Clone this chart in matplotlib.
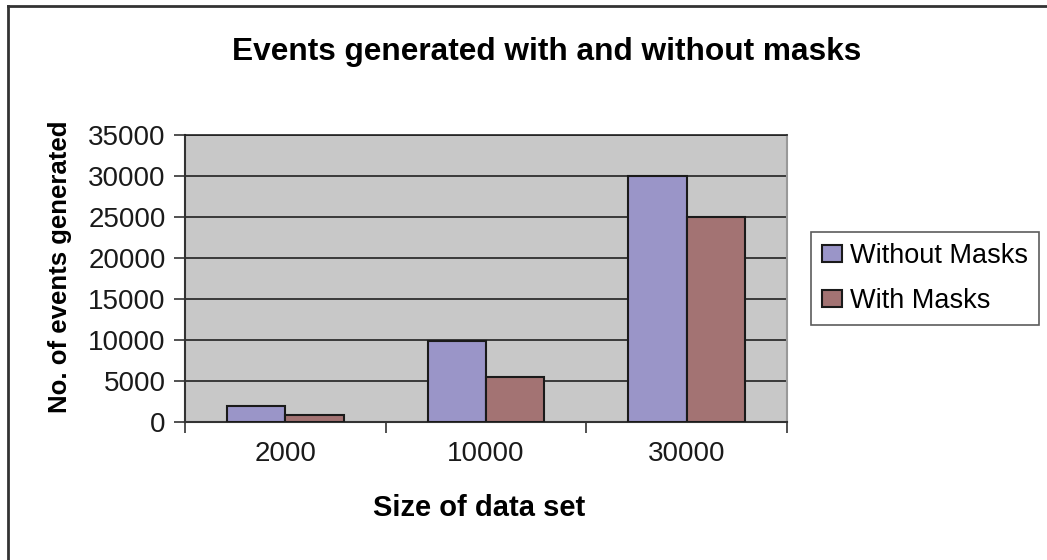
import numpy as np
import matplotlib.pyplot as plt
from matplotlib.lines import Line2D

plt.rcParams['font.family'] = ['Liberation Sans', 'DejaVu Sans']

# data
sizes = ['2000', '10000', '30000']
without_masks = [1900, 9900, 30000]
with_masks = [800, 5500, 25000]
series_names = ['Without Masks', 'With Masks']
y_ticks = [0, 5000, 10000, 15000, 20000, 25000, 30000, 35000]

fig = plt.figure(figsize=(10.47, 5.6), dpi=100)
ax = fig.add_axes([185 / 1047, 1 - 422 / 560, (787 - 185) / 1047, (422 - 135) / 560])
ax.set_facecolor('#c8c8c8')

x = np.arange(len(sizes))
w = 0.29
ax.bar(x - w / 2, without_masks, w, color='#9a95c8', edgecolor='#1a1a1a', linewidth=1.5,
       label=series_names[0], zorder=3)
ax.bar(x + w / 2, with_masks, w, color='#a37373', edgecolor='#1a1a1a', linewidth=1.5,
       label=series_names[1], zorder=3)

ax.set_xlim(-0.5, len(sizes) - 0.5)
ax.set_ylim(0, 35000)
ax.set_yticks(y_ticks)
ax.set_yticklabels([str(v) for v in y_ticks])
ax.yaxis.grid(True, color='#222222', linewidth=1.2, zorder=1)

# category labels centred, tick marks between categories
ax.set_xticks(x)
ax.set_xticklabels(sizes)
ax.tick_params(axis='x', which='major', length=0, pad=14, labelsize=20, colors='#1a1a1a')
ax.set_xticks(np.arange(len(sizes) + 1) - 0.5, minor=True)
ax.tick_params(axis='x', which='minor', length=8, width=1.2, direction='out', color='#333333')
ax.tick_params(axis='y', length=8, width=1.2, direction='out', color='#333333',
               labelsize=20, labelcolor='#1a1a1a', pad=6)

for s in ['left', 'bottom']:
    ax.spines[s].set_color('#333333')
    ax.spines[s].set_linewidth(1.5)
ax.spines['top'].set_color('#222222')
ax.spines['top'].set_linewidth(1.2)
ax.spines['right'].set_color('#999999')
ax.spines['right'].set_linewidth(1.5)

ax.set_xlabel('Size of data set', fontsize=21, fontweight='bold')
ax.xaxis.set_label_coords(0.488, -0.25)
ax.set_ylabel('No. of events generated', fontsize=18.5, fontweight='bold')
ax.yaxis.set_label_coords(-0.188, 0.54)
fig.text(547 / 1047, 1 - 52 / 560, 'Events generated with and without masks',
         fontsize=22.8, fontweight='bold', ha='center', va='center')

leg = fig.legend(loc='upper left', bbox_to_anchor=(811 / 1047, 1 - 232 / 560),
                 borderaxespad=0, fontsize=19.5, frameon=True, fancybox=False,
                 edgecolor='#333333', handlelength=0.75, handleheight=0.6,
                 handletextpad=0.3, labelspacing=0.7, borderpad=0.4)
leg.get_frame().set_linewidth(1.2)

# outer chart border
fig.add_artist(Line2D([8 / 1047, 8 / 1047], [0, 1 - 6 / 560], transform=fig.transFigure,
                      color='#333333', linewidth=2))
fig.add_artist(Line2D([8 / 1047, 1], [1 - 6 / 560, 1 - 6 / 560], transform=fig.transFigure,
                      color='#333333', linewidth=2))

fig.savefig('out.png', dpi=100)
